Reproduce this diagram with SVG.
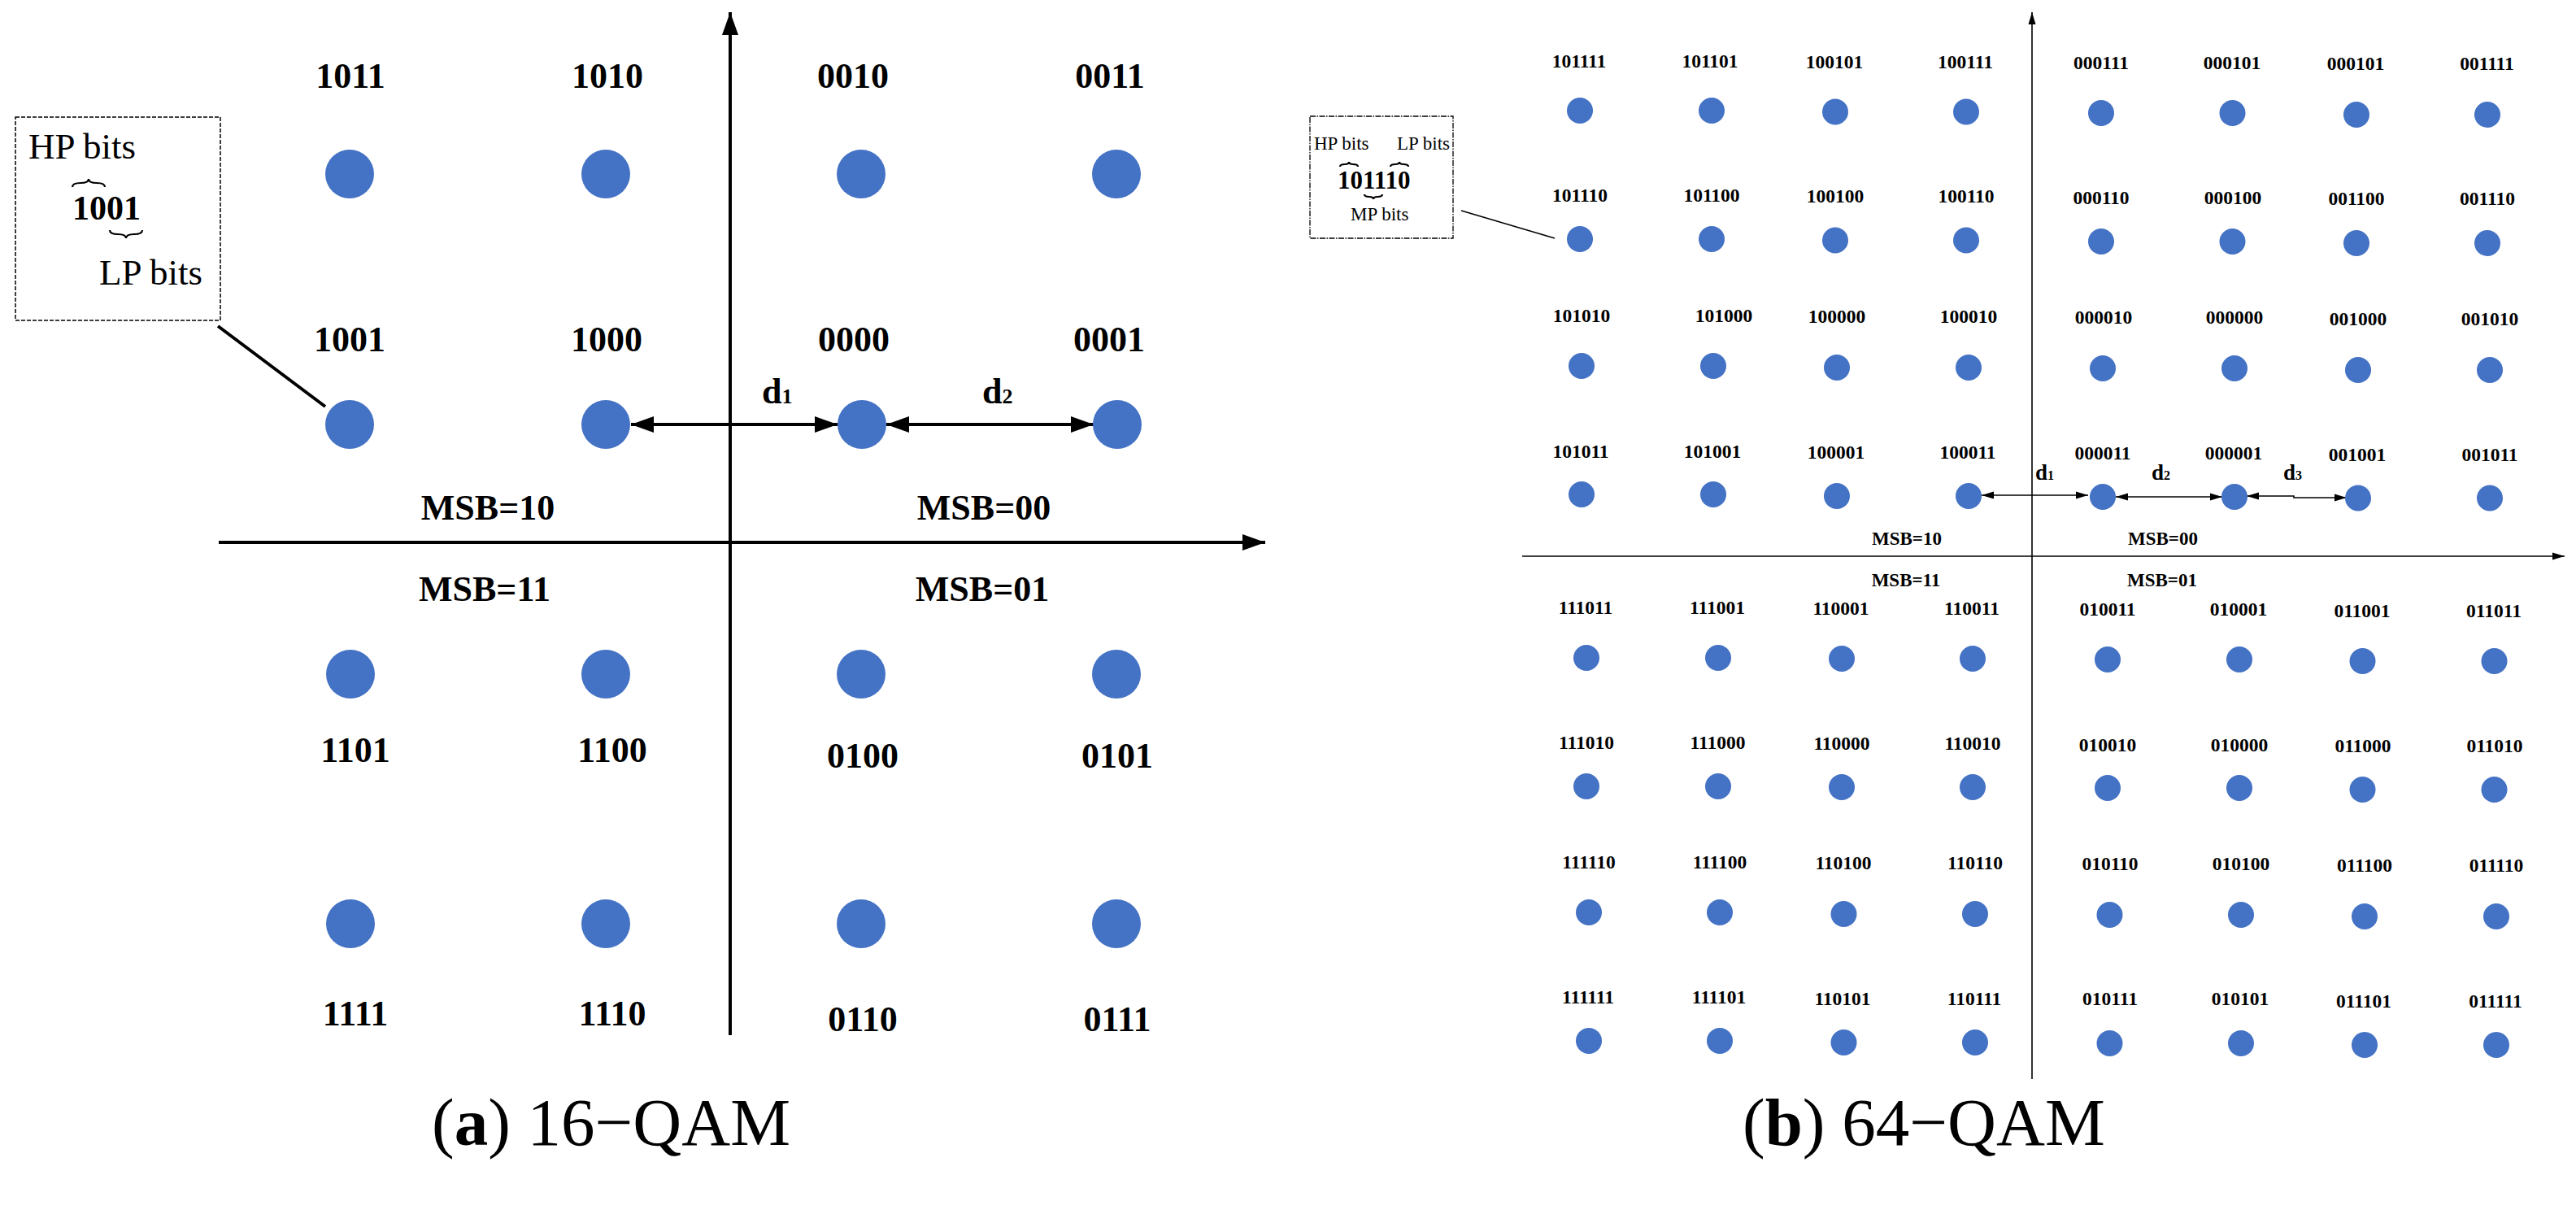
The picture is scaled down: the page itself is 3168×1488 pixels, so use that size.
<svg xmlns="http://www.w3.org/2000/svg" width="3168" height="1488" viewBox="0 0 3168 1488">
<defs>
<style>
text{font-family:"Liberation Serif","Times New Roman",serif;fill:#000}
.b16{font-weight:bold;font-size:44px;text-anchor:middle}
.b64{font-weight:bold;font-size:23.5px;text-anchor:middle}
.msb64{font-weight:bold;font-size:23px;text-anchor:middle}
.reg45{font-size:45px}
.reg23{font-size:23px}
.cap{font-size:83px}
.dot{fill:#4472C4}
.ax16{stroke:#000;stroke-width:4;fill:none}
.ax64{stroke:#000;stroke-width:1.6;fill:none}
.brace{stroke:#000;fill:none;stroke-width:2.2}
</style>
<marker id="big" markerUnits="userSpaceOnUse" markerWidth="28" markerHeight="20" refX="28" refY="10" orient="auto-start-reverse" viewBox="0 0 28 20">
<path d="M0,0 L28,10 L0,20 z" fill="#000"/>
</marker>
<marker id="sm" markerUnits="userSpaceOnUse" markerWidth="15" markerHeight="10" refX="15" refY="5" orient="auto-start-reverse" viewBox="0 0 15 10">
<path d="M0,0.5 L15,5 L0,9.5 z" fill="#000"/>
</marker>
</defs>
<rect width="3168" height="1488" fill="#fff"/>

<!-- ===== 16-QAM ===== -->
<g id="connectors16">
<line class="ax16" x1="269" y1="667" x2="1556" y2="667" marker-end="url(#big)"/>
<line class="ax16" x1="898" y1="1273" x2="898" y2="15" marker-end="url(#big)"/>
<line class="ax16" x1="776" y1="522" x2="1030" y2="522" stroke-width="3.5" marker-start="url(#big)" marker-end="url(#big)"/>
<line class="ax16" x1="1090" y1="522" x2="1345" y2="522" stroke-width="3.5" marker-start="url(#big)" marker-end="url(#big)"/>
<line class="ax16" x1="268" y1="401" x2="400" y2="500"/>
</g>

<g id="legend16">
<rect x="19" y="144" width="252" height="250" fill="none" stroke="#000" stroke-width="1.5" stroke-dasharray="5 2"/>
<text class="reg45" x="35" y="195">HP bits</text>
<text x="89" y="270" font-weight="bold" font-size="42">1001</text>
<path class="brace" d="M89,230 Q89,225 99,225 Q109,225 109,220 Q109,225 119,225 Q129,225 129,230"/>
<path class="brace" d="M135,283 Q135,288 145,288 Q155,288 155,293 Q155,288 165,288 Q175,288 175,283"/>
<text class="reg45" x="122" y="350">LP bits</text>
</g>

<g id="nodes16">
<g id="n1011"><circle class="dot" cx="430" cy="214" r="30"/><text class="b16" x="431" y="108">1011</text></g>
<g id="n1010"><circle class="dot" cx="745" cy="214" r="30"/><text class="b16" x="747" y="108">1010</text></g>
<g id="n0010"><circle class="dot" cx="1059" cy="214" r="30"/><text class="b16" x="1049" y="108">0010</text></g>
<g id="n0011"><circle class="dot" cx="1373" cy="214" r="30"/><text class="b16" x="1365" y="108">0011</text></g>
<g id="n1001"><circle class="dot" cx="430" cy="522" r="30"/><text class="b16" x="430" y="432">1001</text></g>
<g id="n1000"><circle class="dot" cx="745" cy="522" r="30"/><text class="b16" x="746" y="432">1000</text></g>
<g id="n0000"><circle class="dot" cx="1060" cy="522" r="30"/><text class="b16" x="1050" y="432">0000</text></g>
<g id="n0001"><circle class="dot" cx="1374" cy="522" r="30"/><text class="b16" x="1364" y="432">0001</text></g>
<g id="n1101"><circle class="dot" cx="431" cy="829" r="30"/><text class="b16" x="437" y="937">1101</text></g>
<g id="n1100"><circle class="dot" cx="745" cy="829" r="30"/><text class="b16" x="753" y="937">1100</text></g>
<g id="n0100"><circle class="dot" cx="1059" cy="829" r="30"/><text class="b16" x="1061" y="944">0100</text></g>
<g id="n0101"><circle class="dot" cx="1373" cy="829" r="30"/><text class="b16" x="1374" y="944">0101</text></g>
<g id="n1111"><circle class="dot" cx="431" cy="1136" r="30"/><text class="b16" x="437" y="1261">1111</text></g>
<g id="n1110"><circle class="dot" cx="745" cy="1136" r="30"/><text class="b16" x="753" y="1261">1110</text></g>
<g id="n0110"><circle class="dot" cx="1059" cy="1136" r="30"/><text class="b16" x="1061" y="1268">0110</text></g>
<g id="n0111"><circle class="dot" cx="1373" cy="1136" r="30"/><text class="b16" x="1374" y="1268">0111</text></g>
</g>

<g id="labels16">
<text class="b16" x="600" y="639">MSB=10</text>
<text class="b16" x="1210" y="639">MSB=00</text>
<text class="b16" x="596" y="739">MSB=11</text>
<text class="b16" x="1208" y="739">MSB=01</text>
<text x="937" y="496" font-weight="bold" font-size="44">d<tspan font-size="26">1</tspan></text>
<text x="1208" y="496" font-weight="bold" font-size="44">d<tspan font-size="26">2</tspan></text>
</g>

<!-- ===== 64-QAM ===== -->
<g id="connectors64">
<line class="ax64" x1="1872" y1="684" x2="3154" y2="684" marker-end="url(#sm)"/>
<line class="ax64" x1="2499" y1="1327" x2="2499" y2="15" marker-end="url(#sm)"/>
<line class="ax64" x1="2437" y1="609" x2="2568" y2="609" marker-start="url(#sm)" marker-end="url(#sm)"/>
<line class="ax64" x1="2602" y1="611" x2="2733" y2="611" marker-start="url(#sm)" marker-end="url(#sm)"/>
<polyline class="ax64" points="2763,610 2821,610 2821,612 2886,612" marker-start="url(#sm)" marker-end="url(#sm)"/>
<line class="ax64" x1="1797" y1="259" x2="1912" y2="293" stroke-width="1.4"/>
</g>

<g id="legend64">
<rect x="1611" y="143" width="176" height="150" fill="none" stroke="#000" stroke-width="1.3" stroke-dasharray="7 1.5 1.5 1.5"/>
<text class="reg23" x="1616" y="184">HP bits</text>
<text class="reg23" x="1718" y="184">LP bits</text>
<text x="1645" y="232" font-weight="bold" font-size="31">101110</text>
<text class="reg23" x="1661" y="271">MP bits</text>
<path class="brace" stroke-width="1.3" d="M1648,205 Q1648,202 1654,202 Q1659,202 1659,199 Q1659,202 1664,202 Q1670,202 1670,205"/>
<path class="brace" stroke-width="1.3" d="M1710,205 Q1710,202 1716,202 Q1721,202 1721,199 Q1721,202 1726,202 Q1732,202 1732,205"/>
<path class="brace" stroke-width="1.3" d="M1678,239 Q1678,242 1684,242 Q1689,242 1689,245 Q1689,242 1694,242 Q1700,242 1700,239"/>
</g>

<g id="nodes64">
<g id="r1">
<g id="n101111"><circle class="dot" cx="1943" cy="136" r="16"/><text class="b64" x="1942" y="83">101111</text></g>
<g id="n101101"><circle class="dot" cx="2105" cy="136" r="16"/><text class="b64" x="2103" y="83">101101</text></g>
<g id="n100101"><circle class="dot" cx="2257" cy="137.5" r="16"/><text class="b64" x="2256" y="83.5">100101</text></g>
<g id="n100111"><circle class="dot" cx="2418" cy="137.5" r="16"/><text class="b64" x="2417" y="83.5">100111</text></g>
<g id="n000111"><circle class="dot" cx="2584" cy="139" r="16"/><text class="b64" x="2584" y="85">000111</text></g>
<g id="n000101a"><circle class="dot" cx="2745.5" cy="139" r="16"/><text class="b64" x="2745" y="85">000101</text></g>
<g id="n000101b"><circle class="dot" cx="2898" cy="141" r="16"/><text class="b64" x="2897" y="86">000101</text></g>
<g id="n001111"><circle class="dot" cx="3059" cy="141" r="16"/><text class="b64" x="3058.5" y="86">001111</text></g>
</g>
<g id="r2">
<g id="n101110"><circle class="dot" cx="1943" cy="294" r="16"/><text class="b64" x="1943" y="248">101110</text></g>
<g id="n101100"><circle class="dot" cx="2105" cy="294" r="16"/><text class="b64" x="2105" y="248">101100</text></g>
<g id="n100100"><circle class="dot" cx="2257" cy="295.5" r="16"/><text class="b64" x="2257" y="249">100100</text></g>
<g id="n100110"><circle class="dot" cx="2418" cy="295.5" r="16"/><text class="b64" x="2418" y="249">100110</text></g>
<g id="n000110"><circle class="dot" cx="2584" cy="297" r="16"/><text class="b64" x="2584" y="251">000110</text></g>
<g id="n000100"><circle class="dot" cx="2745.5" cy="297" r="16"/><text class="b64" x="2746" y="251">000100</text></g>
<g id="n001100"><circle class="dot" cx="2898" cy="299" r="16"/><text class="b64" x="2898" y="252">001100</text></g>
<g id="n001110"><circle class="dot" cx="3059" cy="299" r="16"/><text class="b64" x="3059" y="252">001110</text></g>
</g>
<g id="r3">
<g id="n101010"><circle class="dot" cx="1945" cy="450" r="16"/><text class="b64" x="1945" y="396">101010</text></g>
<g id="n101000"><circle class="dot" cx="2107" cy="450" r="16"/><text class="b64" x="2120" y="396">101000</text></g>
<g id="n100000"><circle class="dot" cx="2259" cy="452" r="16"/><text class="b64" x="2259" y="397">100000</text></g>
<g id="n100010"><circle class="dot" cx="2421" cy="452" r="16"/><text class="b64" x="2421" y="397">100010</text></g>
<g id="n000010"><circle class="dot" cx="2586" cy="453" r="16"/><text class="b64" x="2587" y="398">000010</text></g>
<g id="n000000"><circle class="dot" cx="2748" cy="453" r="16"/><text class="b64" x="2748" y="398">000000</text></g>
<g id="n001000"><circle class="dot" cx="2900" cy="455" r="16"/><text class="b64" x="2900" y="399.5">001000</text></g>
<g id="n001010"><circle class="dot" cx="3062" cy="455" r="16"/><text class="b64" x="3062" y="399.5">001010</text></g>
</g>
<g id="r4">
<g id="n101011"><circle class="dot" cx="1945" cy="608" r="16"/><text class="b64" x="1944" y="562.5">101011</text></g>
<g id="n101001"><circle class="dot" cx="2107" cy="608" r="16"/><text class="b64" x="2106" y="562.5">101001</text></g>
<g id="n100001"><circle class="dot" cx="2259" cy="610" r="16"/><text class="b64" x="2258" y="564">100001</text></g>
<g id="n100011"><circle class="dot" cx="2421" cy="610" r="16"/><text class="b64" x="2420" y="564">100011</text></g>
<g id="n000011"><circle class="dot" cx="2586" cy="611" r="16"/><text class="b64" x="2586" y="565">000011</text></g>
<g id="n000001"><circle class="dot" cx="2748" cy="611" r="16"/><text class="b64" x="2747" y="565">000001</text></g>
<g id="n001001"><circle class="dot" cx="2900" cy="612.5" r="16"/><text class="b64" x="2899" y="567">001001</text></g>
<g id="n001011"><circle class="dot" cx="3062" cy="612.5" r="16"/><text class="b64" x="3062" y="567">001011</text></g>
</g>
<g id="r5">
<g id="n111011"><circle class="dot" cx="1951" cy="809" r="16"/><text class="b64" x="1950" y="755">111011</text></g>
<g id="n111001"><circle class="dot" cx="2113" cy="809" r="16"/><text class="b64" x="2112" y="755">111001</text></g>
<g id="n110001"><circle class="dot" cx="2265" cy="810" r="16"/><text class="b64" x="2264" y="756">110001</text></g>
<g id="n110011"><circle class="dot" cx="2426" cy="810" r="16"/><text class="b64" x="2425" y="756">110011</text></g>
<g id="n010011"><circle class="dot" cx="2592" cy="811" r="16"/><text class="b64" x="2592" y="757">010011</text></g>
<g id="n010001"><circle class="dot" cx="2754" cy="811" r="16"/><text class="b64" x="2753" y="757">010001</text></g>
<g id="n011001"><circle class="dot" cx="2905.5" cy="813" r="16"/><text class="b64" x="2905" y="758.5">011001</text></g>
<g id="n011011"><circle class="dot" cx="3067.5" cy="813" r="16"/><text class="b64" x="3067" y="758.5">011011</text></g>
</g>
<g id="r6">
<g id="n111010"><circle class="dot" cx="1951" cy="967" r="16"/><text class="b64" x="1951" y="921">111010</text></g>
<g id="n111000"><circle class="dot" cx="2113" cy="967" r="16"/><text class="b64" x="2112.5" y="921">111000</text></g>
<g id="n110000"><circle class="dot" cx="2265" cy="968" r="16"/><text class="b64" x="2265" y="922">110000</text></g>
<g id="n110010"><circle class="dot" cx="2426" cy="968" r="16"/><text class="b64" x="2426" y="922">110010</text></g>
<g id="n010010"><circle class="dot" cx="2592" cy="969" r="16"/><text class="b64" x="2592" y="924">010010</text></g>
<g id="n010000"><circle class="dot" cx="2754" cy="969" r="16"/><text class="b64" x="2754" y="924">010000</text></g>
<g id="n011000"><circle class="dot" cx="2905.5" cy="971" r="16"/><text class="b64" x="2906" y="925">011000</text></g>
<g id="n011010"><circle class="dot" cx="3067.5" cy="971" r="16"/><text class="b64" x="3068" y="925">011010</text></g>
</g>
<g id="r7">
<g id="n111110"><circle class="dot" cx="1954" cy="1122" r="16"/><text class="b64" x="1954" y="1068">111110</text></g>
<g id="n111100"><circle class="dot" cx="2115" cy="1122" r="16"/><text class="b64" x="2115" y="1068">111100</text></g>
<g id="n110100"><circle class="dot" cx="2267.5" cy="1124" r="16"/><text class="b64" x="2267" y="1069">110100</text></g>
<g id="n110110"><circle class="dot" cx="2429" cy="1124" r="16"/><text class="b64" x="2429" y="1069">110110</text></g>
<g id="n010110"><circle class="dot" cx="2594.5" cy="1125" r="16"/><text class="b64" x="2595" y="1070">010110</text></g>
<g id="n010100"><circle class="dot" cx="2756" cy="1125" r="16"/><text class="b64" x="2756" y="1070">010100</text></g>
<g id="n011100"><circle class="dot" cx="2908" cy="1127" r="16"/><text class="b64" x="2908" y="1071.5">011100</text></g>
<g id="n011110"><circle class="dot" cx="3070" cy="1127" r="16"/><text class="b64" x="3070" y="1071.5">011110</text></g>
</g>
<g id="r8">
<g id="n111111"><circle class="dot" cx="1954" cy="1280" r="16"/><text class="b64" x="1953" y="1234">111111</text></g>
<g id="n111101"><circle class="dot" cx="2115" cy="1280" r="16"/><text class="b64" x="2114" y="1234">111101</text></g>
<g id="n110101"><circle class="dot" cx="2267.5" cy="1282" r="16"/><text class="b64" x="2266" y="1236">110101</text></g>
<g id="n110111"><circle class="dot" cx="2429" cy="1282" r="16"/><text class="b64" x="2428" y="1236">110111</text></g>
<g id="n010111"><circle class="dot" cx="2594.5" cy="1283" r="16"/><text class="b64" x="2595" y="1236">010111</text></g>
<g id="n010101"><circle class="dot" cx="2756" cy="1283" r="16"/><text class="b64" x="2755" y="1236">010101</text></g>
<g id="n011101"><circle class="dot" cx="2908" cy="1285" r="16"/><text class="b64" x="2907" y="1238.5">011101</text></g>
<g id="n011111"><circle class="dot" cx="3070" cy="1285" r="16"/><text class="b64" x="3069" y="1238.5">011111</text></g>
</g>
</g>

<g id="labels64">
<text class="msb64" x="2345" y="670">MSB=10</text>
<text class="msb64" x="2660" y="670">MSB=00</text>
<text class="msb64" x="2344" y="721">MSB=11</text>
<text class="msb64" x="2659" y="721">MSB=01</text>
<text x="2503" y="590" font-weight="bold" font-size="27">d<tspan font-size="16">1</tspan></text>
<text x="2646" y="590" font-weight="bold" font-size="27">d<tspan font-size="16">2</tspan></text>
<text x="2808" y="590" font-weight="bold" font-size="27">d<tspan font-size="16">3</tspan></text>
</g>

<g id="captions">
<text class="cap" x="531" y="1408">(<tspan font-weight="bold">a</tspan>) 16−QAM</text>
<text class="cap" x="2143" y="1408">(<tspan font-weight="bold">b</tspan>) 64−QAM</text>
</g>
</svg>
